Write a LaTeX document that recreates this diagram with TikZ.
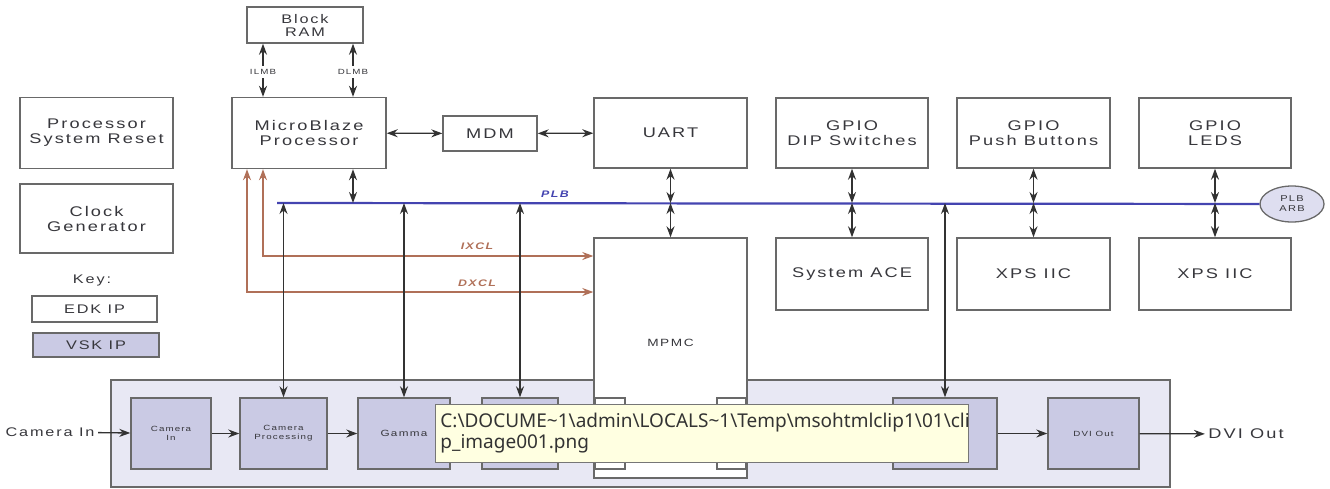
\documentclass[tikz,border=0pt]{standalone}
\usepackage{fontspec}
\setmainfont{Liberation Sans}[FakeStretch=1.3, LetterSpace=15]
\newfontfamily\tipfont{Noto Sans}
\usetikzlibrary{arrows.meta, calc, shapes.geometric}

\definecolor{boxline}{RGB}{105,105,105}
\definecolor{linegray}{RGB}{50,50,50}
\definecolor{txt}{RGB}{55,55,60}
\definecolor{vskfill}{RGB}{202,202,228}
\definecolor{panelfill}{RGB}{232,232,244}
\definecolor{arbfill}{RGB}{222,222,240}
\definecolor{plbblue}{RGB}{68,68,176}
\definecolor{xclbrown}{RGB}{176,112,88}
\definecolor{tipfill}{RGB}{255,255,225}
\definecolor{tipline}{RGB}{118,118,118}

\begin{document}
\begin{tikzpicture}[x=1pt, y=-1pt, >={Stealth[length=11pt, width=8pt]},
    ip/.style={draw=boxline, line width=1.4pt, fill=white, text=txt,
      align=center, inner sep=0pt},
    vsk/.style={ip, fill=vskfill},
    big/.style={font=\fontsize{14}{15}\selectfont},
    mid/.style={font=\fontsize{12.5}{13}\selectfont},
    small/.style={font=\fontsize{10.5}{11}\selectfont},
    tiny/.style={font=\fontsize{7.5}{9}\selectfont, text=txt, align=center},
    link/.style={<->, line width=1.3pt, draw=linegray},
    flow/.style={->, line width=1.3pt, draw=linegray},
    xcl/.style={<->, line width=1.2pt, draw=xclbrown},
    xcllbl/.style={font=\fontsize{9.5}{10}\selectfont\itshape\bfseries, text=xclbrown},
    busline/.style={line width=2.2pt, draw=plbblue}]

  \useasboundingbox (0,0) rectangle (1330,488);

  % Videopaneel onderaan
  \node (panel) [draw=boxline, line width=1.6pt, fill=panelfill, inner sep=0pt,
    minimum width=1059pt, minimum height=107pt] at (640.5,433.5) {};

  % Geheugen en processor
  \node (bram) [ip, mid, minimum width=116pt, minimum height=36pt] at (305,25) {Block\\RAM};
  \node (mb) [ip, big, minimum width=154pt, minimum height=71pt] at (309,133) {MicroBlaze\\Processor};
  \node (mdm) [ip, big, minimum width=94pt, minimum height=35pt] at (490,133.5) {MDM};

  % Losse blokken links
  \node (psr) [ip, big, minimum width=153pt, minimum height=71pt] at (96.5,133) {Processor\\System Reset};
  \node (clk) [ip, big, minimum width=153pt, minimum height=69pt] at (96.5,218.5) {Clock\\Generator};

  % Legenda
  \node (key) [mid, text=txt] at (92,280) {Key:};
  \node (edk) [ip, mid, minimum width=125pt, minimum height=26pt] at (94.5,309) {EDK IP};
  \node (vskkey) [vsk, mid, minimum width=126pt, minimum height=24pt] at (96,345) {VSK IP};

  % Randapparaten bovenaan
  \node (uart) [ip, big, minimum width=153pt, minimum height=70pt] at (670.5,133) {UART};
  \node (dip) [ip, big, minimum width=152pt, minimum height=70pt] at (852,133) {GPIO\\DIP Switches};
  \node (push) [ip, big, minimum width=153pt, minimum height=70pt] at (1033.5,133) {GPIO\\Push Buttons};
  \node (leds) [ip, big, minimum width=152pt, minimum height=70pt] at (1215,133) {GPIO\\LEDS};

  % Randapparaten onderaan
  \node (ace) [ip, big, minimum width=152pt, minimum height=72pt] at (852,274) {System ACE};
  \node (iicA) [ip, big, minimum width=153pt, minimum height=72pt] at (1033.5,274) {XPS IIC};
  \node (iicB) [ip, big, minimum width=152pt, minimum height=72pt] at (1215,274) {XPS IIC};

  % Geheugencontroller met poorten
  \node (mpmc) [ip, minimum width=153pt, minimum height=240pt] at (670.5,358) {};
  \node [small, text=txt] at ($(mpmc.center)+(0,-15)$) {MPMC};
  \node (portL) [ip, minimum width=30pt, minimum height=71pt] at (610,433.5) {};
  \node (portR) [ip, minimum width=29pt, minimum height=71pt] at (731.5,433.5) {};

  % Videoketen
  \node (camin) [vsk, tiny, minimum width=80pt, minimum height=71pt] at (171,433.5) {Camera\\In};
  \node (campro) [vsk, tiny, minimum width=87pt, minimum height=71pt] at (283.5,433.5) {Camera\\Processing};
  \node (gamma) [vsk, tiny, font=\fontsize{9}{10}\selectfont, minimum width=92pt, minimum height=71pt] at (404,433.5) {Gamma};
  \node (vidD) [vsk, minimum width=76pt, minimum height=71pt] at (520,433.5) {};
  \node (vidE) [vsk, minimum width=104pt, minimum height=71pt] at (945,433.5) {};
  \node (dviblk) [vsk, tiny, minimum width=91pt, minimum height=71pt] at (1093.5,433.5) {DVI Out};
  \node (camlbl) [mid, text=txt] at (50,432) {Camera In};
  \node (dvilbl) [big, text=txt] at (1246,434) {DVI Out};

  \draw[flow] (camlbl) -- (camin);
  \draw[flow] (camin) -- (campro);
  \draw[flow] (campro) -- (gamma);
  \draw[flow] (vidE) -- (dviblk);
  \draw[flow] (dviblk) -- (dvilbl);

  % LMB naar Block RAM
  \node (ilmb) [tiny] at (263,72) {ILMB};
  \node (dlmb) [tiny] at (353,72) {DLMB};
  \draw[flow] (ilmb) -- (bram.south -| ilmb);
  \draw[flow] (ilmb) -- (mb.north -| ilmb);
  \draw[flow] (dlmb) -- (bram.south -| dlmb);
  \draw[flow] (dlmb) -- (mb.north -| dlmb);

  \draw[link] (mb) -- (mdm);
  \draw[link] (mdm) -- (uart);

  % XCL naar MPMC
  \coordinate (ixcl) at (263,256);
  \coordinate (dxcl) at (247,292);
  \draw[xcl] (mb.south -| ixcl) |- (mpmc.west |- ixcl);
  \draw[xcl] (mb.south -| dxcl) |- (mpmc.west |- dxcl);
  \node [xcllbl] at (477,246) {IXCL};
  \node [xcllbl] at (477,283) {DXCL};

  % PLB bus
  \coordinate (plbW) at (277,203);
  \node (arb) [ellipse, draw=boxline, line width=1.3pt, fill=arbfill, inner sep=0pt,
    minimum width=64pt, minimum height=36pt, align=center, text=txt,
    font=\fontsize{8.5}{10}\selectfont] at (1292,204) {PLB\\ARB};
  \draw[busline] (plbW) -- (arb);
  \node [text=plbblue, font=\fontsize{9.5}{10}\selectfont\itshape\bfseries] at (555,194) {PLB};

  % Aansluitingen op de bus
  \draw[link] (mb.south -| dlmb) -- (plbW -| dlmb);
  \foreach \up/\down in {uart/mpmc, dip/ace, push/iicA, leds/iicB} {
    \draw[link] (\up) -- (\up |- plbW);
    \draw[link] (\up |- plbW) -- (\down);
  }
  \foreach \blk in {campro, gamma, vidD, vidE}
    \draw[link] (plbW -| \blk) -- (\blk);

  % Tooltip
  \node (tip) [draw=tipline, line width=0.8pt, fill=tipfill, anchor=north west,
    text width=523pt, minimum height=58pt, inner xsep=5pt, inner ysep=0pt, align=left,
    text=black!80, font=\tipfont\fontsize{19}{21}\selectfont] at (435,404)
    {C:\textbackslash DOCUME\textasciitilde 1\textbackslash admin\textbackslash
     LOCALS\textasciitilde 1\textbackslash Temp\textbackslash msohtmlclip1\textbackslash
     01\textbackslash cli\\
     p\_image001.png};

\end{tikzpicture}
\end{document}
